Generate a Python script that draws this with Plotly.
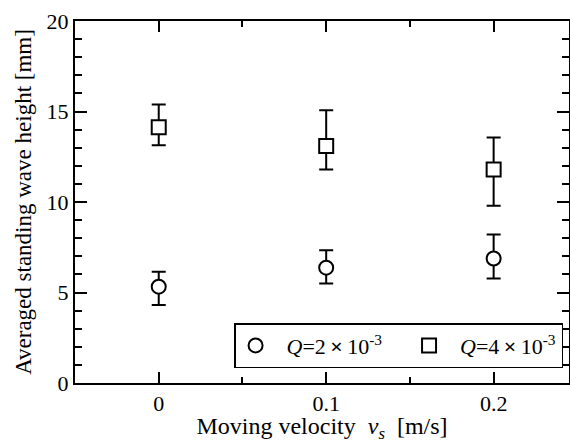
import plotly.graph_objects as go

velocity = [0.0, 0.1, 0.2]

# Q = 2e-3
height_q2 = [5.32, 6.37, 6.88]
err_plus_q2 = [0.83, 0.97, 1.33]
err_minus_q2 = [1.01, 0.87, 1.10]

# Q = 4e-3
height_q4 = [14.13, 13.10, 11.80]
err_plus_q4 = [1.25, 1.97, 1.77]
err_minus_q4 = [0.99, 1.30, 2.01]

FONT = "Liberation Serif, Times New Roman, serif"


def add_series(fig, y, ep, em, symbol, name):
    fig.add_trace(go.Scatter(
        x=velocity, y=y, mode="markers", name=name,
        marker=dict(symbol=symbol, size=14, color="white",
                    line=dict(color="black", width=2)),
        error_y=dict(type="data", array=ep, arrayminus=em, symmetric=False,
                     color="black", thickness=2, width=7),
    ))


fig = go.Figure()
add_series(fig, height_q2, err_plus_q2, err_minus_q2, "circle",
           "\u2002<i>Q</i>=2\u2009<b>\u00d7</b>\u200910<sup>-3</sup>\u2002\u2002")
add_series(fig, height_q4, err_plus_q4, err_minus_q4, "square",
           "\u2002<i>Q</i>=4\u2009<b>\u00d7</b>\u200910<sup>-3</sup>")

axis_common = dict(showline=True, linecolor="black", linewidth=2, mirror="ticks",
                   ticks="inside", tickcolor="black", tickwidth=1.5,
                   showgrid=False, zeroline=False, automargin=False,
                   tickfont=dict(family=FONT, size=22, color="black"))

fig.update_xaxes(range=[-0.05, 0.245], tickvals=[0, 0.1, 0.2], ticktext=["0", "0.1", "0.2"],
                 ticklen=11,
                 minor=dict(tickvals=[0.05, 0.15], ticks="inside", ticklen=6,
                            tickcolor="black", tickwidth=1.5),
                 title=dict(text="Moving velocity\u00a0 <i>v<sub>s</sub></i>\u00a0 [m/s]",
                            font=dict(family=FONT, size=24, color="black"), standoff=6),
                 **axis_common)
fig.update_yaxes(range=[0, 20], dtick=5, ticklen=12,
                 minor=dict(dtick=1, ticks="inside", ticklen=7,
                            tickcolor="black", tickwidth=1.5),
                 title=dict(text="Averaged standing wave height [mm]",
                            font=dict(family=FONT, size=23, color="black"), standoff=9),
                 **axis_common)

fig.update_layout(
    width=570, height=443,
    margin=dict(l=75, r=1, t=21, b=60),
    plot_bgcolor="white", paper_bgcolor="white",
    showlegend=True,
    legend=dict(orientation="h", x=0.988, y=0.041, xanchor="right", yanchor="bottom",
                bordercolor="black", borderwidth=1.5, bgcolor="white",
                font=dict(family=FONT, size=22, color="black"),
                itemwidth=30, tracegroupgap=0),
)

fig.write_html("out.html", config={"displayModeBar": False},
               post_script="document.body.style.margin='0';")
